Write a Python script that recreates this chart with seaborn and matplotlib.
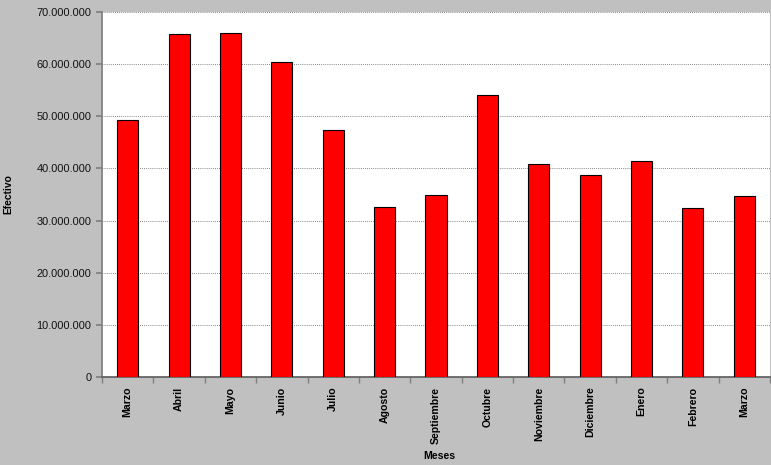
import numpy as np
import pandas as pd
import matplotlib
matplotlib.use("Agg")
import matplotlib.pyplot as plt
import seaborn as sns
from matplotlib.ticker import FuncFormatter, MultipleLocator

# ─────────────────────────────────────────────────────────────
#  Data
# ─────────────────────────────────────────────────────────────
meses = ["Marzo", "Abril", "Mayo", "Junio", "Julio", "Agosto", "Septiembre",
         "Octubre", "Noviembre", "Diciembre", "Enero", "Febrero", "Marzo"]
efectivo = [49_300_000, 65_800_000, 66_000_000, 60_400_000, 47_400_000,
            32_600_000, 35_000_000, 54_100_000, 40_900_000, 38_700_000,
            41_500_000, 32_400_000, 34_700_000]
y_ticks = [0, 10_000_000, 20_000_000, 30_000_000, 40_000_000,
           50_000_000, 60_000_000, 70_000_000]

df = pd.DataFrame({"pos": np.arange(len(meses)), "efectivo": efectivo})

sns.set_theme(style="white")
plt.rcParams["font.family"] = ["Liberation Sans", "DejaVu Sans"]
plt.rcParams["text.color"] = "black"
plt.rcParams["axes.labelcolor"] = "black"

fig = plt.figure(figsize=(7.71, 4.65), dpi=100, facecolor="#C0C0C0")
ax = fig.add_axes([0.1323, 0.1892, 0.8664, 0.785])
ax.set_facecolor("white")

sns.barplot(data=df, x="pos", y="efectivo", color="#FF0000",
            saturation=1, width=0.41, edgecolor="black", linewidth=0.8,
            ax=ax, zorder=3)

ax.set_xlim(-0.5, len(meses) - 0.5)
ax.set_ylim(0, 70_000_000)
ax.set_yticks(y_ticks)
ax.yaxis.set_major_formatter(
    FuncFormatter(lambda v, _: f"{int(v):,}".replace(",", ".")))
ax.grid(axis="y", color="#606060", linestyle=(0, (1, 1.5)), linewidth=0.6, zorder=0)

# labels at bar centres, tick marks between bars
ax.set_xticks(np.arange(len(meses)))
ax.set_xticklabels(meses, rotation=90, fontweight="bold", fontsize=7.6)
ax.xaxis.set_minor_locator(MultipleLocator(1, offset=0.5))
ax.tick_params(axis="x", which="major", length=0, pad=7, labelcolor="black")
ax.tick_params(axis="x", which="minor", length=4, color="#808080", bottom=True)
ax.tick_params(axis="y", length=4, color="#808080", left=True, labelsize=7.9,
               labelcolor="#111111")

for side in ["top", "right"]:
    ax.spines[side].set_visible(False)
ax.spines["left"].set_color("#808080")
ax.spines["bottom"].set_color("#606060")

ax.set_xlabel("Meses", fontweight="bold", fontsize=7.6)
ax.set_ylabel("Efectivo", fontweight="bold", fontsize=7.4)
ax.xaxis.set_label_coords(0.505, -0.203)
ax.yaxis.set_label_coords(-0.132, 0.5)

fig.savefig("out.png", dpi=100, facecolor=fig.get_facecolor())
